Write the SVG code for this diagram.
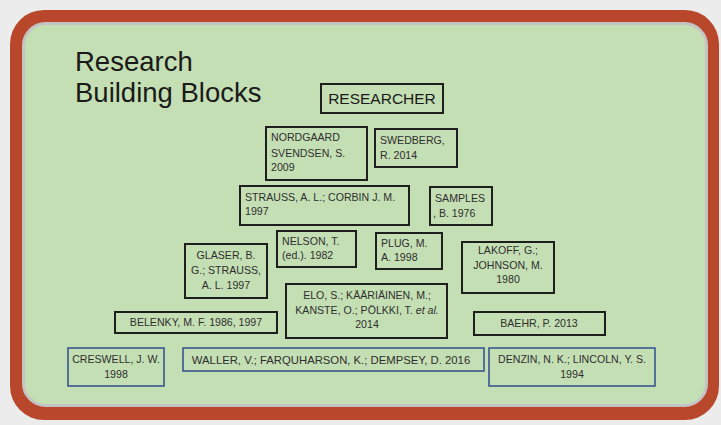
<svg xmlns="http://www.w3.org/2000/svg" width="721" height="425" viewBox="0 0 721 425">
<style>
.t{font-family:"Liberation Sans",Arial,sans-serif;font-size:10.6px;fill:#2e2e2e}
.c{text-anchor:middle}
.b{fill:none;stroke:#1e1e1e;stroke-width:2}
.bl{fill:none;stroke:#2f4f8f;stroke-width:1.5}
.title{font-family:"Liberation Sans",Arial,sans-serif;font-size:27.5px;fill:#1a1a1a}
</style>
<rect x="0" y="0" width="721" height="425" fill="#ececec"/>
<rect x="10" y="10" width="709" height="410" rx="34" fill="#b9472b"/>
<rect x="23.5" y="23.5" width="683" height="382" rx="22" fill="#c5dfb4" stroke="#c4c4c4" stroke-width="3"/>
<g id="title">
<text class="title" x="75" y="71">Research</text>
<text class="title" x="75" y="102">Building Blocks</text>
</g>
<g id="connectors"></g>
<g id="researcher">
<rect class="b" x="321" y="84" width="122" height="29"/>
<text x="382" y="104" class="c" style="font-family:'Liberation Sans',Arial,sans-serif;font-size:15.5px;fill:#1a1a1a">RESEARCHER</text>
</g>
<g id="nordgaard">
<rect class="b" x="266" y="127" width="101" height="53"/>
<text class="t" x="271" y="141">NORDGAARD</text>
<text class="t" x="271" y="157">SVENDSEN, S.</text>
<text class="t" x="271" y="171">2009</text>
</g>
<g id="swedberg">
<rect class="b" x="375" y="129" width="82" height="38"/>
<text class="t" x="380" y="144">SWEDBERG,</text>
<text class="t" x="380" y="159">R. 2014</text>
</g>
<g id="strauss">
<rect class="b" x="240" y="186" width="169" height="39"/>
<text class="t" x="245" y="201">STRAUSS, A. L.; CORBIN J. M.</text>
<text class="t" x="245" y="215">1997</text>
</g>
<g id="samples">
<rect class="b" x="430" y="187" width="62" height="38"/>
<text class="t" x="435" y="202">SAMPLES</text>
<text class="t" x="433" y="217">, B. 1976</text>
</g>
<g id="nelson">
<rect class="b" x="277" y="231" width="79" height="36"/>
<text class="t" x="282" y="245">NELSON, T.</text>
<text class="t" x="282" y="259">(ed.). 1982</text>
</g>
<g id="plug">
<rect class="b" x="376" y="233" width="66" height="36"/>
<text class="t" x="381" y="247">PLUG, M.</text>
<text class="t" x="381" y="261">A.  1998</text>
</g>
<g id="lakoff">
<rect class="b" x="462" y="242" width="92" height="51"/>
<text class="t c" x="508" y="254">LAKOFF, G.;</text>
<text class="t c" x="508" y="269">JOHNSON, M.</text>
<text class="t c" x="508" y="283">1980</text>
</g>
<g id="glaser">
<rect class="b" x="185" y="244" width="82" height="54"/>
<text class="t c" x="226" y="259">GLASER, B.</text>
<text class="t c" x="226" y="274">G.; STRAUSS,</text>
<text class="t c" x="226" y="289">A. L.  1997</text>
</g>
<g id="elo">
<rect class="b" x="286" y="284" width="161" height="54"/>
<text class="t c" x="367" y="299">ELO, S.; KÄÄRIÄINEN, M.;</text>
<text class="t c" x="367" y="314">KANSTE, O.; PÖLKKI, T. <tspan font-style="italic">et al.</tspan></text>
<text class="t c" x="367" y="328">2014</text>
</g>
<g id="belenky">
<rect class="b" x="115" y="312" width="162" height="21"/>
<text class="t c" x="196" y="326">BELENKY, M. F. 1986, 1997</text>
</g>
<g id="baehr">
<rect class="b" x="474" y="312" width="131" height="23"/>
<text class="t c" x="539" y="327">BAEHR, P. 2013</text>
</g>
<g id="creswell">
<rect class="bl" x="68" y="348" width="96" height="38"/>
<text class="t c" x="116" y="363">CRESWELL, J. W.</text>
<text class="t c" x="116" y="378">1998</text>
</g>
<g id="waller">
<rect class="bl" x="183" y="348" width="301" height="23"/>
<text class="t c" x="331" y="364" style="font-size:11.3px">WALLER, V.; FARQUHARSON, K.; DEMPSEY, D. 2016</text>
</g>
<g id="denzin">
<rect class="bl" x="489" y="348" width="166" height="38"/>
<text class="t c" x="572" y="363">DENZIN, N. K.; LINCOLN, Y. S.</text>
<text class="t c" x="572" y="378">1994</text>
</g>
</svg>
